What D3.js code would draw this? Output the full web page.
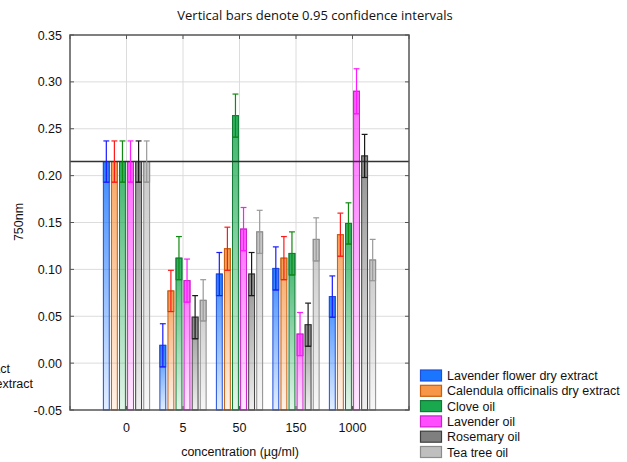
<!DOCTYPE html>
<html><head><meta charset="utf-8">
<script src="https://cdn.jsdelivr.net/npm/d3@7"></script>
<style>body{margin:0;background:#fff}svg{display:block}</style>
</head><body>
<script>
const categories = ["0","5","50","150","1000"];
const series = ["Lavender flower dry extract","Calendula officinalis dry extract","Clove oil","Lavender oil","Rosemary oil","Tea tree oil"];
// means per series, by category
const means = [
  [0.215, 0.019, 0.095, 0.101, 0.071],
  [0.215, 0.077, 0.122, 0.112, 0.137],
  [0.215, 0.112, 0.264, 0.117, 0.149],
  [0.215, 0.088, 0.143, 0.031, 0.290],
  [0.215, 0.049, 0.095, 0.041, 0.221],
  [0.215, 0.067, 0.140, 0.132, 0.110]
];
// half-width of the 0.95 confidence interval
const ci = [
  [0.022, 0.023, 0.023, 0.023, 0.022],
  [0.022, 0.022, 0.023, 0.023, 0.023],
  [0.022, 0.023, 0.023, 0.023, 0.022],
  [0.022, 0.023, 0.023, 0.023, 0.024],
  [0.022, 0.023, 0.023, 0.023, 0.023],
  [0.022, 0.022, 0.023, 0.023, 0.022]
];
const refValue = 0.215;
const yTicks = [-0.05,0,0.05,0.10,0.15,0.20,0.25,0.30,0.35];
const fills = ["#1a75ff","#f79646","#1aa84f","#ff4dff","#7f7f7f","#bfbfbf"];
const strokes = ["#1f4fd6","#c65f10","#117a36","#cc22cc","#3f3f3f","#8c8c8c"];
const errCols = ["#1a1aff","#ff1a1a","#108a10","#ff1aff","#1a1a1a","#999999"];

const W=627,H=462;
const svg=d3.select("body").append("svg").attr("width",W).attr("height",H);
const L=70,R=409,T=35,B=410;
const y=d3.scaleLinear().domain([-0.05,0.35]).range([B,T]);
const x=d3.scalePoint().domain(categories).range([L,R]).padding(1);
const step=x.step();
const slot=step/7;
const xs=d3.scaleBand().domain(series).range([-3*slot,3*slot]).paddingInner(0.27).paddingOuter(0.135);

const defs=svg.append("defs");
fills.forEach((c,i)=>{
  const g=defs.append("linearGradient").attr("id","g"+i).attr("x1",0).attr("y1",0).attr("x2",0).attr("y2",1);
  g.append("stop").attr("offset","0%").attr("stop-color",c).attr("stop-opacity",0.85);
  g.append("stop").attr("offset","100%").attr("stop-color",c).attr("stop-opacity",0.12);
});

// grid
svg.append("g").selectAll("line").data(yTicks.slice(1,-1)).join("line")
  .attr("x1",L).attr("x2",R).attr("y1",d=>y(d)).attr("y2",d=>y(d))
  .attr("stroke","#dcdcdc").attr("stroke-width",1);
svg.append("g").selectAll("line").data(categories).join("line")
  .attr("x1",d=>x(d)).attr("x2",d=>x(d)).attr("y1",T).attr("y2",B)
  .attr("stroke","#dcdcdc").attr("stroke-width",1);

// bars
const data=[];
series.forEach((s,i)=>categories.forEach((c,j)=>data.push({s,i,c,m:means[i][j],e:ci[i][j]})));
const bw=xs.bandwidth();
const gb=svg.append("g");
data.forEach(d=>{
  const x0=x(d.c)+xs(d.s);
  gb.append("rect").attr("x",x0).attr("y",y(d.m)).attr("width",bw).attr("height",y(-0.05)-y(d.m))
    .attr("fill",`url(#g${d.i})`).attr("stroke",strokes[d.i]).attr("stroke-width",1);
  gb.append("rect").attr("x",x0).attr("y",y(d.m)).attr("width",bw).attr("height",y(d.m-d.e)-y(d.m))
    .attr("fill",fills[d.i]).attr("fill-opacity",0.45).attr("stroke",strokes[d.i]).attr("stroke-width",1);
});
// reference line
svg.append("line").attr("x1",L).attr("x2",R).attr("y1",y(refValue)).attr("y2",y(refValue))
  .attr("stroke","#333").attr("stroke-width",1.5);
// error bars
const ge=svg.append("g");
data.forEach(d=>{
  const cx=x(d.c)+xs(d.s)+bw/2;
  const col=errCols[d.i];
  ge.append("line").attr("x1",cx).attr("x2",cx).attr("y1",y(d.m+d.e)).attr("y2",y(d.m-d.e)).attr("stroke",col).attr("stroke-width",1.2);
  [d.m+d.e,d.m-d.e].forEach(v=>ge.append("line").attr("x1",cx-bw/2).attr("x2",cx+bw/2).attr("y1",y(v)).attr("y2",y(v)).attr("stroke",col).attr("stroke-width",1.2));
});

// frame
svg.append("rect").attr("x",L).attr("y",T).attr("width",R-L).attr("height",B-T).attr("fill","none").attr("stroke","#555").attr("stroke-width",1.5);
const fr=svg.append("g").attr("stroke","#555");
yTicks.forEach(v=>{fr.append("line").attr("x1",L).attr("x2",L+4).attr("y1",y(v)).attr("y2",y(v));
  fr.append("line").attr("x1",R-4).attr("x2",R).attr("y1",y(v)).attr("y2",y(v));});
d3.range(0,7).forEach(k=>{const xx=L+k*step;
  fr.append("line").attr("x1",xx).attr("x2",xx).attr("y1",T).attr("y2",T+4);
  fr.append("line").attr("x1",xx).attr("x2",xx).attr("y1",B-4).attr("y2",B);});

const font="Liberation Sans, Arial, sans-serif";
const fmt=d=>d3.format(".2f")(d).replace("\u2212","-");
svg.append("g").selectAll("text").data(yTicks).join("text")
  .attr("x",62).attr("y",d=>y(d)+4.5).attr("text-anchor","end")
  .attr("font-family",font).attr("font-size",12.5).attr("fill","#111").text(fmt);
svg.append("g").selectAll("text").data(categories).join("text")
  .attr("x",d=>x(d)).attr("y",432).attr("text-anchor","middle")
  .attr("font-family",font).attr("font-size",12.5).attr("fill","#111").text(d=>d);

svg.append("text").attr("x",315).attr("y",20).attr("text-anchor","middle").attr("font-family","Open Sans, sans-serif").attr("font-size",13).attr("fill","#111").text("Vertical bars denote 0.95 confidence intervals");
svg.append("text").attr("x",240).attr("y",456).attr("text-anchor","middle").attr("font-family",font).attr("font-size",12.5).attr("fill","#111").text("concentration (µg/ml)");
svg.append("text").attr("transform","translate(23,222) rotate(-90)").attr("text-anchor","middle").attr("font-family",font).attr("font-size",12.5).attr("fill","#111").text("750nm");

// clipped legend remnant at left edge
svg.append("text").attr("x",10).attr("y",373).attr("text-anchor","end").attr("font-family",font).attr("font-size",12.5).attr("fill","#111").text(series[0]);
svg.append("text").attr("x",33).attr("y",388).attr("text-anchor","end").attr("font-family",font).attr("font-size",12.5).attr("fill","#111").text(series[1]);

// legend
const lg=svg.append("g");
series.forEach((s,i)=>{
  const yy=370+i*15.3;
  lg.append("rect").attr("x",420.5).attr("y",yy).attr("width",21).attr("height",11).attr("fill",fills[i]).attr("stroke",strokes[i]).attr("stroke-width",1.2);
  lg.append("text").attr("x",447).attr("y",yy+10).attr("font-family",font).attr("font-size",12.5).attr("fill","#111").text(s);
});
</script>
</body></html>
